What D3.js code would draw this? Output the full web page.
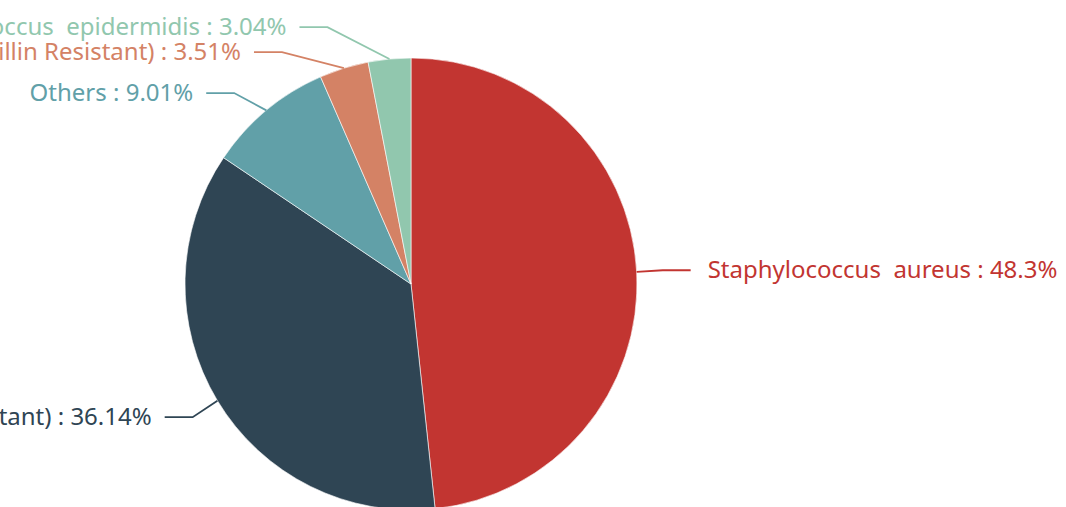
<!DOCTYPE html>
<html>
<head>
<meta charset="utf-8">
<script src="https://cdn.jsdelivr.net/npm/d3@7/dist/d3.min.js"></script>
<style>
  html, body { margin: 0; padding: 0; background: #fff; overflow: hidden; }
  text { font-family: "Microsoft YaHei", "Noto Sans", sans-serif; white-space: pre; }
</style>
</head>
<body>
<div id="chart"></div>
<script>
// pie data (in drawing order, clockwise from 12 o'clock)
var names = [
    "Staphylococcus  aureus",
    "Staphylococcus  aureus (Methicillin Resistant)",
    "Others",
    "Coagulase-negative Staphylococci (Methicillin Resistant)",
    "Staphylococcus  epidermidis"
];
var values = [48.3, 36.14, 9.01, 3.51, 3.04];
var colors = ["#c23531", "#2f4554", "#61a0a8", "#d48265", "#91c7ae"];

var svgWidth = 1066, svgHeight = 507;
var cx = 411, cy = 284, radius = 226;
var lineLen = 32,   // radial part of the label line
    lineLen2 = 28,  // horizontal part
    endRadius = radius + 54,
    labelHeight = 25,
    textGap = 13;

var svg = d3.select("#chart").append("svg")
    .attr("width", svgWidth)
    .attr("height", svgHeight);

var data = values.map(function (v, i) {
    return { name: names[i], value: v, color: colors[i] };
});

var pie = d3.pie().sort(null).value(function (d) { return d.value; });
var arcs = pie(data);
var arc = d3.arc().innerRadius(0).outerRadius(radius);

var g = svg.append("g").attr("transform", "translate(" + cx + "," + cy + ")");

g.selectAll("path.slice")
    .data(arcs)
    .enter().append("path")
    .attr("class", "slice")
    .attr("d", arc)
    .attr("fill", function (d) { return d.data.color; })
    .attr("stroke", "#fff")
    .attr("stroke-width", 0.6);

// label layout, roughly like echarts does it: start radial, push apart vertically
var labels = arcs.map(function (d) {
    var a = (d.startAngle + d.endAngle) / 2;
    var dx = Math.sin(a), dy = -Math.cos(a);
    return {
        d: d,
        dir: dx < 0 ? -1 : 1,
        x0: radius * dx, y0: radius * dy,
        x: (radius + lineLen) * dx,
        y: (radius + lineLen) * dy
    };
});

function adjustSide(list, dir) {
    list.sort(function (a, b) { return a.y - b.y; });
    var top = -cy, bottom = svgHeight - cy;
    function shiftUp(end, delta) {
        for (var j = end; j >= 0; j--) {
            if (list[j].y - delta < top) break;
            list[j].y -= delta;
            if (j > 0 && list[j].y > list[j - 1].y + labelHeight) break;
        }
    }
    function shiftDown(start, end, delta) {
        for (var j = start; j < end; j++) {
            if (list[j].y + delta > bottom) break;
            list[j].y += delta;
            if (j > start && j + 1 < end && list[j + 1].y > list[j].y + labelHeight) {
                shiftUp(j, delta / 2);
                return;
            }
        }
        shiftUp(end - 1, delta / 2);
    }
    var lastY = top;
    for (var i = 0; i < list.length; i++) {
        var delta = list[i].y - lastY;
        if (delta < 0) shiftDown(i, list.length, -delta);
        lastY = list[i].y + labelHeight;
    }
    list.forEach(function (l) {
        var ay = Math.abs(l.y);
        var ex = ay < endRadius ? Math.sqrt(endRadius * endRadius - ay * ay) : Math.abs(l.x);
        l.ex = ex * dir;
        l.x = l.ex - dir * lineLen2;
    });
}

adjustSide(labels.filter(function (l) { return l.dir < 0; }), -1);
adjustSide(labels.filter(function (l) { return l.dir > 0; }), 1);

var lineGen = d3.line();

g.selectAll("path.label-line")
    .data(labels)
    .enter().append("path")
    .attr("class", "label-line")
    .attr("d", function (l) {
        return lineGen([[l.x0, l.y0], [l.x, l.y], [l.ex, l.y]]);
    })
    .attr("fill", "none")
    .attr("stroke", function (l) { return l.d.data.color; })
    .attr("stroke-width", 1.8);

g.selectAll("text.label")
    .data(labels)
    .enter().append("text")
    .attr("class", "label")
    .attr("x", function (l) { return l.ex + l.dir * (l.dir > 0 ? textGap + 4 : textGap); })
    .attr("y", function (l) { return l.y; })
    .attr("dy", "0.33em")
    .attr("text-anchor", function (l) { return l.dir < 0 ? "end" : "start"; })
    .attr("fill", function (l) { return l.d.data.color; })
    .style("font-size", "24px")
    .text(function (l) { return l.d.data.name + " : " + l.d.data.value + "%"; });
</script>
</body>
</html>
